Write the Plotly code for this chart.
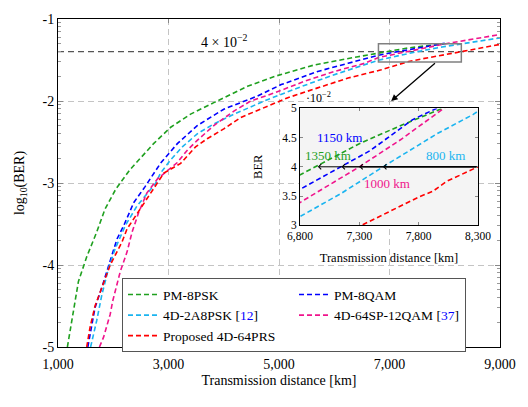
import numpy as np
import plotly.graph_objects as go

# ---------------- data (log10 BER vs transmission distance in km) ----------------
dist_pm8psk = [1170, 1370, 1520, 1700, 1850, 2050, 2300, 2730, 3040, 3400, 3820, 4430, 4920, 5640, 6430, 6800, 7300, 7640, 8000]
logber_pm8psk = [-5.0, -4.2, -3.9, -3.6, -3.32, -3.07, -2.84, -2.52, -2.32, -2.16, -2.02, -1.82, -1.70, -1.56, -1.46, -1.413, -1.357, -1.328, -1.301]

dist_pm8qam = [1540, 1670, 1790, 1915, 2070, 2190, 2370, 2570, 2855, 3160, 3520, 4000, 4610, 5040, 5700, 6250, 6800, 7150, 7390, 7750, 8000]
logber_pm8qam = [-5.0, -4.52, -4.28, -4.0, -3.68, -3.52, -3.24, -3.05, -2.76, -2.52, -2.30, -2.10, -1.94, -1.80, -1.64, -1.54, -1.442, -1.398, -1.369, -1.318, -1.297]

dist_2a8psk = [1590, 1700, 1795, 1915, 2036, 2218, 2430, 2770, 2855, 3036, 3250, 3520, 3820, 4190, 4730, 5340, 5950, 6400, 6800, 7150, 7500, 7950, 8260, 9000]
logber_2a8psk = [-5.0, -4.68, -4.36, -4.04, -3.80, -3.52, -3.28, -3.0, -2.88, -2.72, -2.56, -2.40, -2.28, -2.16, -2.0, -1.84, -1.69, -1.59, -1.502, -1.45, -1.398, -1.341, -1.31, -1.23]

dist_64sp = [1750, 1825, 1945, 1990, 2127, 2250, 2340, 2460, 2610, 2800, 3160, 3340, 3520, 3820, 4190, 4490, 4920, 5460, 6000, 6550, 6800, 7300, 7650, 8020, 9000]
logber_64sp = [-5.0, -4.88, -4.60, -4.44, -4.08, -3.84, -3.60, -3.36, -3.12, -2.95, -2.75, -2.60, -2.48, -2.30, -2.12, -2.0, -1.90, -1.76, -1.64, -1.54, -1.470, -1.398, -1.35, -1.301, -1.19]

dist_prs = [1520, 1580, 1670, 1765, 1945, 2067, 2158, 2250, 2370, 2490, 2610, 2740, 2915, 3220, 3490, 3700, 4000, 4310, 4670, 5160, 5700, 6250, 6850, 7320, 7600, 7810, 7920, 8034, 8300, 9000]
logber_prs = [-5.0, -4.76, -4.50, -4.32, -4.0, -3.84, -3.72, -3.56, -3.44, -3.32, -3.20, -3.07, -2.88, -2.76, -2.56, -2.46, -2.34, -2.20, -2.10, -1.96, -1.84, -1.72, -1.62, -1.523, -1.485, -1.457, -1.446, -1.426, -1.398, -1.31]

series_names = ["PM-8PSK", "PM-8QAM", "4D-2A8PSK [<span style='color:#0000ff'>12</span>]",
                "4D-64SP-12QAM [<span style='color:#0000ff'>37</span>]", "Proposed 4D-64PRS"]
series_colors = ["#1fa01f", "#0000ff", "#1ab4f0", "#f0148c", "#ff0000"]
series_x = [dist_pm8psk, dist_pm8qam, dist_2a8psk, dist_64sp, dist_prs]
series_y = [logber_pm8psk, logber_pm8qam, logber_2a8psk, logber_64sp, logber_prs]

ber_threshold = 4e-2
zoom_ber = [3e-2, 5e-2]
zoom_km = [6800, 8300]
# crossing distances of the threshold in the inset and the reach gains
cross_km = [6950, 7150, 7300, 7500]
gain_labels = ["1350 km", "1150 km", "1000 km", "800 km"]
gain_colors = ["#1fa01f", "#0000ff", "#f0148c", "#1ab4f0"]
gain_label_pos = [(7032, 4.2), (7129, 4.51), (7533, 3.71), (8026, 4.19)]

main_xticks = [1000, 3000, 5000, 7000, 9000]
main_xtext = ["1,000", "3,000", "5,000", "7,000", "9,000"]
main_yticks = [-5, -4, -3, -2, -1]
main_ytext = ["-5", "-4", "-3", "-2", "-1"]
inset_xticks = [6800, 7300, 7800, 8300]
inset_xtext = ["6,800", "7,300", "7,800", "8,300"]
inset_yticks = [3, 3.5, 4, 4.5, 5]
inset_ytext = ["3", "3.5", "4", "4.5", "5"]

FONT = "Liberation Serif"
DASH = "5px,3px"

fig = go.Figure()
for name, col, xs, ys in zip(series_names, series_colors, series_x, series_y):
    fig.add_trace(go.Scatter(x=xs, y=ys, mode="lines", name=name,
                             line=dict(color=col, width=1.6, dash=DASH),
                             xaxis="x", yaxis="y"))
for name, col, xs, ys in zip(series_names, series_colors, series_x, series_y):
    fig.add_trace(go.Scatter(x=xs, y=[10 ** v * 100 for v in ys], mode="lines", name=name,
                             line=dict(color=col, width=1.6, dash=DASH),
                             xaxis="x2", yaxis="y2", showlegend=False))

minor_vals = [float(np.log10(k * 10.0 ** n)) for n in range(-5, -1) for k in range(2, 10)]

fig.update_layout(
    width=528, height=407,
    margin=dict(l=58, r=28, t=13, b=60),
    paper_bgcolor="white", plot_bgcolor="white",
    font=dict(family=FONT, size=14, color="black"),
    showlegend=True,
    legend=dict(x=0.1448, y=0.2096, xanchor="left", yanchor="top",
                orientation="h", entrywidth=126, entrywidthmode="pixels",
                bgcolor="white", bordercolor="#555", borderwidth=1,
                font=dict(family=FONT, size=13.5), traceorder="normal",
                itemwidth=30, tracegroupgap=0),
    xaxis=dict(domain=[0, 1], range=[1000, 9000], tickmode="array",
               tickvals=main_xticks, ticktext=main_xtext,
               ticks="inside", ticklen=4, tickcolor="#888",
               showline=True, linecolor="black", linewidth=1, mirror="ticks",
               showgrid=True, gridcolor="#c4c4c4", griddash="6px,4px", gridwidth=1,
               zeroline=False, tickfont=dict(size=14), ticklabelstandoff=4,
               title=dict(text="Transmission distance [km]", font=dict(size=14), standoff=4)),
    yaxis=dict(domain=[0, 1], range=[-5, -1], tickmode="array",
               tickvals=main_yticks, ticktext=main_ytext,
               ticks="inside", ticklen=5, tickcolor="#888",
               minor=dict(tickmode="array", tickvals=minor_vals, ticks="inside",
                          ticklen=3, tickcolor="#999", showgrid=False),
               showline=True, linecolor="black", linewidth=1, mirror="ticks",
               showgrid=True, gridcolor="#c4c4c4", griddash="6px,4px", gridwidth=1,
               zeroline=False, tickfont=dict(size=14),
               title=dict(text="log<sub>10</sub>(BER)", font=dict(size=14), standoff=14)),
    xaxis2=dict(domain=[0.5475, 0.9502], anchor="y2", range=zoom_km, tickmode="array",
                tickvals=inset_xticks, ticktext=inset_xtext,
                ticks="inside", ticklen=3, tickcolor="#888",
                showline=True, linecolor="black", linewidth=1, mirror="ticks",
                showgrid=False, zeroline=False, tickfont=dict(size=11.5),
                title=dict(text="Transmission distance [km]", font=dict(size=12.5), standoff=11)),
    yaxis2=dict(domain=[0.3713, 0.7275], anchor="x2", range=[3, 5], tickmode="array",
                tickvals=inset_yticks, ticktext=inset_ytext,
                ticks="inside", ticklen=3, tickcolor="#888",
                showline=True, linecolor="black", linewidth=1, mirror="ticks",
                showgrid=False, zeroline=False, tickfont=dict(size=11.5),
                title=dict(text="BER", font=dict(size=12.5), standoff=16)),
)

# inset background
fig.add_shape(type="rect", xref="x2", yref="y2", x0=zoom_km[0], x1=zoom_km[1], y0=3, y1=5,
              fillcolor="#f4f4f4", line=dict(width=0), layer="below")
# threshold line
fig.add_shape(type="line", xref="x domain", yref="y", x0=0, x1=1,
              y0=np.log10(ber_threshold), y1=np.log10(ber_threshold),
              line=dict(color="#555", width=1.2, dash="6px,4px"), layer="below")
# zoom rectangle
fig.add_shape(type="rect", xref="x", yref="y", x0=zoom_km[0], x1=zoom_km[1],
              y0=np.log10(zoom_ber[0]), y1=np.log10(zoom_ber[1]),
              line=dict(color="#808080", width=1.5), layer="above")

fig.add_annotation(x=4000, y=-1.263, xref="x", yref="y", text="4 × 10<sup>−2</sup>",
                   showarrow=False, font=dict(size=14))
fig.add_annotation(x=7030, y=-2.0, xref="x", yref="y", ax=7850, ay=np.log10(zoom_ber[0]),
                   axref="x", ayref="y", showarrow=True, arrowhead=2, arrowsize=1,
                   arrowwidth=1.3, arrowcolor="black", text="")
fig.add_annotation(x=0.02, y=1.0, xref="x2 domain", yref="y2 domain", xanchor="left", yanchor="bottom",
                   text="·10<sup>−2</sup>", showarrow=False, font=dict(size=12), yshift=1)
for cx in cross_km:
    fig.add_annotation(x=cx, y=ber_threshold * 100, xref="x2", yref="y2",
                       ax=zoom_km[1], ay=ber_threshold * 100, axref="x2", ayref="y2",
                       showarrow=True, arrowhead=4, arrowsize=1, arrowwidth=1,
                       arrowcolor="black", text="")
for lab, col, (lx, ly) in zip(gain_labels, gain_colors, gain_label_pos):
    fig.add_annotation(x=lx, y=ly, xref="x2", yref="y2", text=lab, showarrow=False,
                       font=dict(size=13, color=col))

fig.write_html("out.html")
